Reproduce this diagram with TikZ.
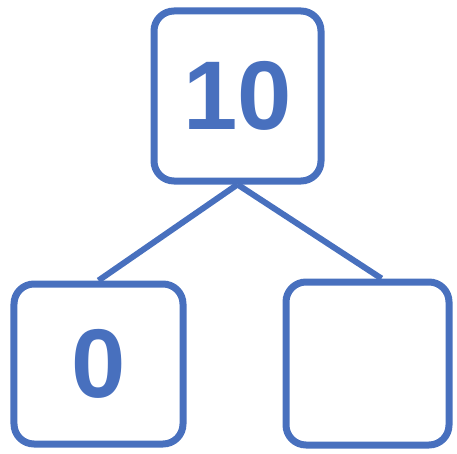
\documentclass[tikz,border=0pt]{standalone}
\usepackage{fontspec}
\setmainfont{Liberation Sans}
\usetikzlibrary{calc}
\definecolor{boxblue}{RGB}{72,112,190}
\tikzset{
  numbox/.style={draw=boxblue, line width=7bp, rounded corners=20bp,
    inner sep=0pt, text=boxblue,
    font=\fontsize{98}{98}\selectfont\bfseries},
  branch/.style={draw=boxblue, line width=6bp}
}

\begin{document}
\begin{tikzpicture}[x=1bp, y=-1bp]
		%%%%% START %%%%%
		\useasboundingbox (0, 0) rectangle (457, 454);
		
		\node[numbox, minimum width=167bp, minimum height=170bp] (whole) at (237.5, 96) {10};
		\node[numbox, minimum width=169bp, minimum height=160bp] (partA) at (98.5, 364) {0};
		\node[numbox, minimum width=163bp, minimum height=163bp] (partB) at (367.5, 363.5) {};
		
		\draw[branch] (whole.south) -- (partA.north);
		\draw[branch] (whole.south) -- ([xshift=14bp]partB.north);
		%%%%% END %%%%%
	\end{tikzpicture}
\end{document}
